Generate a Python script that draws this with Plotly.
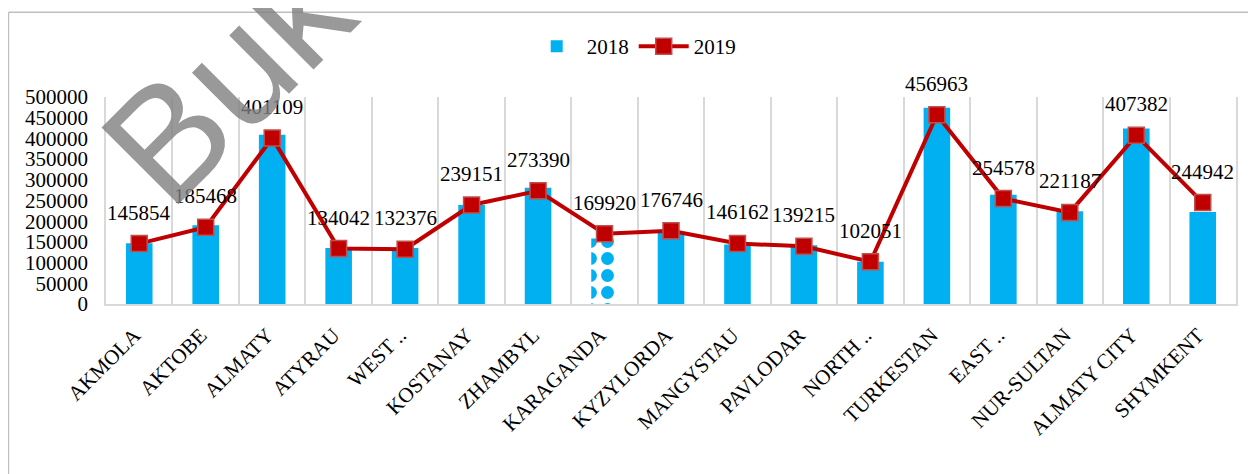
import plotly.graph_objects as go

regions = ["AKMOLA", "AKTOBE", "ALMATY", "ATYRAU", "WEST ..", "KOSTANAY", "ZHAMBYL",
           "KARAGANDA", "KYZYLORDA", "MANGYSTAU", "PAVLODAR", "NORTH ..", "TURKESTAN",
           "EAST ..", "NUR-SULTAN", "ALMATY CITY", "SHYMKENT"]
values_2018 = [147000, 190000, 409000, 135000, 135000, 239000, 281000,
               158000, 174000, 144000, 142000, 102000, 474000,
               264000, 224000, 424000, 222000]
values_2019 = [145854, 185468, 401109, 134042, 132376, 239151, 273390,
               169920, 176746, 146162, 139215, 102051, 456963,
               254578, 221187, 407382, 244942]
bar_patterns = ["", "", "", "", "", "", "", ".", "", "", "", "", "", "", "", "", ""]
y_ticks = list(range(0, 500001, 50000))

BLUE = "#00B0F0"
RED = "#C00000"
SERIF = "Liberation Serif, Times New Roman, serif"

fig = go.Figure()
fig.add_trace(go.Bar(
    x=regions, y=values_2018, name="2018",
    marker=dict(color=BLUE, line=dict(width=0),
                pattern=dict(shape=bar_patterns, size=17, solidity=0.45,
                             fgcolor=BLUE, bgcolor="white", fillmode="replace")),
))
fig.add_trace(go.Scatter(
    x=regions, y=values_2019, name="2019", mode="lines+markers",
    line=dict(color=RED, width=4), cliponaxis=False,
    marker=dict(symbol="square", size=16, color=RED,
                line=dict(color="#C0504D", width=1.5)),
))

# data labels for 2019
for cat, val in zip(regions, values_2019):
    fig.add_annotation(x=cat, y=val, text=str(val), showarrow=False,
                       yshift=31, xanchor="center", yanchor="middle",
                       font=dict(family=SERIF, size=21, color="black"))

# outer chart border (top and left visible)
fig.add_shape(type="line", xref="paper", yref="paper", x0=-0.0863, x1=1.03,
              y0=1.4097, y1=1.4097, line=dict(color="#BFBFBF", width=1.5))
fig.add_shape(type="line", xref="paper", yref="paper", x0=-0.0863, x1=-0.0863,
              y0=1.4097, y1=-0.9, line=dict(color="#BFBFBF", width=1.5))

# watermark
fig.add_annotation(text="Buk", xref="paper", yref="paper", x=0.107, y=1.094,
                   xanchor="center", yanchor="middle",
                   showarrow=False, textangle=-45,
                   font=dict(family="Liberation Sans, Arial, sans-serif", size=158,
                             color="rgba(128,128,128,0.8)"))

fig.update_layout(
    width=1248, height=466,
    margin=dict(l=98, r=20, t=89, b=170, autoexpand=False),
    paper_bgcolor="white", plot_bgcolor="white",
    bargap=0.6,
    font=dict(family=SERIF, size=21, color="black"),
    showlegend=True,
    legend=dict(orientation="h", x=0.467, xanchor="center", y=1.244, yanchor="middle",
                font=dict(family=SERIF, size=21, color="black"),
                bgcolor="rgba(0,0,0,0)", itemwidth=50),
    xaxis=dict(type="category", tickson="boundaries", showgrid=True,
               gridcolor="#D9D9D9", gridwidth=1.5, ticks="", tickangle=-45,
               showline=True, linecolor="#D9D9D9", linewidth=1.5,
               automargin=False, ticklabelstandoff=9, ticklabelshift=-5,
               tickfont=dict(family=SERIF, size=21, color="black"),
               range=[-0.5, len(regions) - 0.5]),
    yaxis=dict(range=[0, 500000], tickvals=y_ticks, tickformat="d",
               showgrid=False, zeroline=False, showline=True, mirror=True,
               linecolor="#D9D9D9", linewidth=1.5, ticks="", automargin=False,
               ticklabelstandoff=12,
               tickfont=dict(family=SERIF, size=21, color="black")),
)

fig.write_html("out.html")
